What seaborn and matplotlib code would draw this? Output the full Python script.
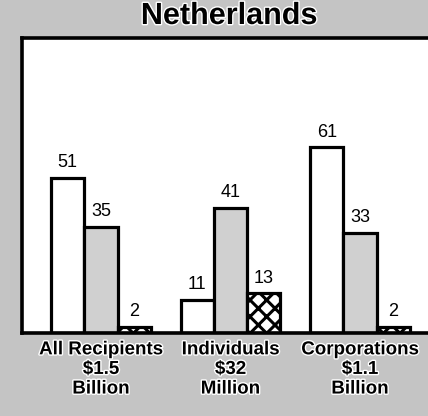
import matplotlib
matplotlib.use("Agg")
import matplotlib.pyplot as plt
import matplotlib.patheffects as pe
import seaborn as sns
import pandas as pd

categories = ["All Recipients\n\\$1.5\nBillion", "Individuals\n\\$32\nMillion", "Corporations\n\\$1.1\nBillion"]
series = ["A", "B", "C"]
values_a = [51, 11, 61]
values_b = [35, 41, 33]
values_c = [2, 13, 2]
title = "Netherlands"

rows = []
for i, cat in enumerate(categories):
    rows.append({"cat": cat, "series": "A", "val": values_a[i]})
    rows.append({"cat": cat, "series": "B", "val": values_b[i]})
    rows.append({"cat": cat, "series": "C", "val": values_c[i]})
df = pd.DataFrame(rows)

sns.set_theme(style="white")
plt.rcParams["font.family"] = ["Liberation Sans", "DejaVu Sans"]
plt.rcParams["hatch.linewidth"] = 2.2
plt.rcParams["hatch.color"] = "black"

fig = plt.figure(figsize=(4.28, 4.16), dpi=100, facecolor="#c4c4c4")
ax = fig.add_axes([22 / 428, (416 - 333) / 416, (428 - 22) / 428, (333 - 38) / 416])
ax.set_facecolor("white")

palette = {"A": "white", "B": "#d0d0d0", "C": "white"}
sns.barplot(data=df, x="cat", y="val", hue="series", hue_order=series,
            order=categories, palette=palette, width=0.77, dodge=True,
            edgecolor="black", linewidth=2.3, legend=False, ax=ax, saturation=1)

for j, cont in enumerate(ax.containers):
    if j == 2:
        for p in cont:
            p.set_hatch("xx")
            p.set_edgecolor("black")
    ax.bar_label(cont, labels=[str(int(v)) for v in cont.datavalues],
                 padding=5, fontsize=13, color="black")

ax.set_xlim(-0.61, 2.525)
ax.set_ylim(0, 97)
ax.set_yticks([])
ax.set_xlabel("")
ax.set_ylabel("")
ax.tick_params(axis="x", length=0, pad=6)
for lab in ax.get_xticklabels():
    lab.set_fontweight("bold")
    lab.set_fontsize(13.5)
    lab.set_linespacing(1.2)
    lab.set_color("black")
    lab.set_path_effects([pe.withStroke(linewidth=2, foreground="white")])

for s in ["left", "top", "bottom"]:
    ax.spines[s].set_visible(True)
    ax.spines[s].set_color("black")
    ax.spines[s].set_linewidth(2.6)
ax.spines["right"].set_visible(False)

fig.text(0.535, 1 - 16 / 416, title, ha="center", va="center",
         fontsize=22, fontweight="bold", color="black",
         path_effects=[pe.withStroke(linewidth=2, foreground="white")])

fig.savefig("out.png", dpi=100, facecolor=fig.get_facecolor())
